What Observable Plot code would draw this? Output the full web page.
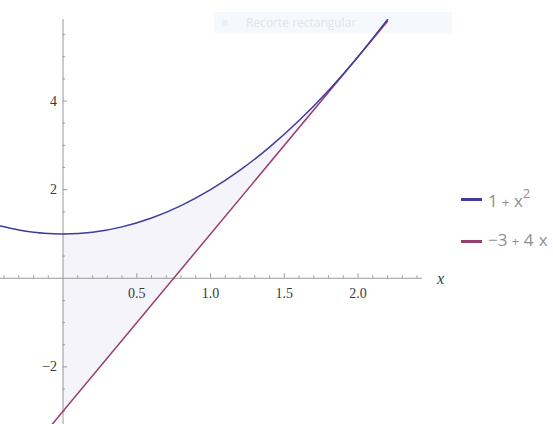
<!DOCTYPE html>
<html>
<head>
<meta charset="utf-8">
<script src="https://cdn.jsdelivr.net/npm/d3@7"></script>
<script src="https://cdn.jsdelivr.net/npm/@observablehq/plot@0.6"></script>
<style>
  html, body { margin: 0; padding: 0; background: #fff; }
  #wrap { position: relative; width: 553px; height: 424px; overflow: hidden; }
  #chart { position: absolute; left: 0; top: 0; z-index: 2; }
  #overlay { position: absolute; left: 214px; top: 12px; width: 238px; height: 21px; z-index: 1;
    background: #f5f9fe; font: 12px "Open Sans", sans-serif; color: #e2e4e8; }
  #overlay .dot { position: absolute; left: 8px; top: 8px; width: 6px; height: 6px; border-radius: 3px; background: #eceef2; }
  #overlay .lbl { position: absolute; left: 32px; top: 2px; white-space: nowrap; }
  #legend { position: absolute; left: 461px; top: 185px; z-index: 3; font: 17px "Open Sans", sans-serif; color: #8f8f8f; }
  .item { position: relative; height: 42px; }
  .sw { position: absolute; left: 0; top: 13px; width: 21px; height: 3px; }
  .tx { position: absolute; left: 27px; top: 1px; white-space: nowrap; }
  .tx sup { font-size: 13px; position: relative; top: -2px; }
  .op { font-size: 13px; margin: 0 1px; }
</style>
</head>
<body>
<div id="wrap">
  <div id="overlay"><div class="dot"></div><div class="lbl">Recorte rectangular</div></div>
  <div id="chart"></div>
  <div id="legend"></div>
</div>
<script>
// Series
const seriesNames = ["1 + x²", "−3 + 4 x"];
const seriesColors = ["#3f3d99", "#993d71"];

// Parabola samples (x, y)
const parabX = [-0.424, -0.3, -0.2, -0.1, 0, 0.2, 0.4, 0.6, 0.8, 1.0, 1.2, 1.4, 1.6, 1.8, 2.0, 2.2];
const parabY = [1.18, 1.09, 1.04, 1.01, 1.0, 1.04, 1.16, 1.36, 1.64, 2.0, 2.44, 2.96, 3.56, 4.24, 5.0, 5.84];

// Line samples (x, y)
const lineX = [-0.2, 2.2];
const lineY = [-3.8, 5.8];

// Shaded region between the curves, x from 0 to 2
const fillX  = [0, 0.2, 0.4, 0.6, 0.8, 1.0, 1.2, 1.4, 1.6, 1.8, 2.0];
const fillLo = [-3, -2.2, -1.4, -0.6, 0.2, 1.0, 1.8, 2.6, 3.4, 4.2, 5.0];
const fillHi = [1.0, 1.04, 1.16, 1.36, 1.64, 2.0, 2.44, 2.96, 3.56, 4.24, 5.0];

// Ticks
const xMajorTicks = [0.5, 1.0, 1.5, 2.0];
const xTickLabels = ["0.5", "1.0", "1.5", "2.0"];
const xMinorTicks = [-0.4, -0.3, -0.2, -0.1, 0.1, 0.2, 0.3, 0.4, 0.6, 0.7, 0.8, 0.9, 1.1, 1.2, 1.3, 1.4, 1.6, 1.7, 1.8, 1.9, 2.1, 2.2, 2.3, 2.4];
const yMajorTicks = [-2, 2, 4];
const yTickLabels = ["−2", "2", "4"];
const yMinorTicks = [-3, -2.5, -1.5, -1, -0.5, 0.5, 1, 1.5, 2.5, 3, 3.5, 4.5, 5, 5.5];

const xDomain = [-0.424, 2.437];
const yDomain = [-3.3, 5.84];

const W = 553, H = 424, mL = 0, mR = 131, mT = 19, mB = 0;
const pxPerX = (W - mL - mR) / (xDomain[1] - xDomain[0]);
const pxPerY = (H - mT - mB) / (yDomain[1] - yDomain[0]);

const parab = parabX.map((x, i) => ({x, y: parabY[i]}));
const line = lineX.map((x, i) => ({x, y: lineY[i]}));
const fill = fillX.map((x, i) => ({x, lo: fillLo[i], hi: fillHi[i]}));

const axisColor = "#9a9a9a";
const minorLen = 2.5, majorLen = 4.5;

const chart = Plot.plot({
  width: W, height: H,
  marginLeft: mL, marginRight: mR, marginTop: mT, marginBottom: mB,
  x: {domain: xDomain, axis: null},
  y: {domain: yDomain, axis: null},
  style: {background: "transparent", overflow: "visible"},
  marks: [
    Plot.areaY(fill, {x: "x", y1: "lo", y2: "hi", fill: "#f4f4fa", curve: "natural"}),
    // axes
    Plot.ruleY([0], {x1: xDomain[0], x2: xDomain[1], stroke: axisColor, strokeWidth: 1}),
    Plot.ruleX([0], {y1: yDomain[0], y2: yDomain[1], stroke: axisColor, strokeWidth: 1}),
    Plot.ruleX(xMinorTicks, {x: d => d, y1: 0, y2: minorLen / pxPerY, stroke: axisColor}),
    Plot.ruleX(xMajorTicks, {x: d => d, y1: 0, y2: majorLen / pxPerY, stroke: axisColor}),
    Plot.ruleY(yMinorTicks, {y: d => d, x1: 0, x2: minorLen / pxPerX, stroke: axisColor}),
    Plot.ruleY(yMajorTicks, {y: d => d, x1: 0, x2: majorLen / pxPerX, stroke: axisColor}),
    Plot.text(xMajorTicks, {x: d => d, y: 0, text: (d, i) => xTickLabels[i], dy: 15,
      fontFamily: "Liberation Serif", fontSize: 14, fill: "#3a3a3a"}),
    Plot.text(yMajorTicks, {x: 0, y: d => d, text: (d, i) => yTickLabels[i], dx: -6, textAnchor: "end",
      fontFamily: "Liberation Serif", fontSize: 14, fill: "#3a3a3a"}),
    Plot.text(["x"], {x: xDomain[1], y: 0, text: d => d, dx: 18, dy: 1,
      fontFamily: "Liberation Serif", fontStyle: "italic", fontSize: 16, fill: "#3a3a3a"}),
    // curves
    Plot.line(line, {x: "x", y: "y", stroke: seriesColors[1], strokeWidth: 1.5, clip: true}),
    Plot.line(parab, {x: "x", y: "y", stroke: seriesColors[0], strokeWidth: 1.5, curve: "natural", clip: true})
  ]
});
document.getElementById("chart").appendChild(chart);

// Legend
const legend = document.getElementById("legend");
const legendHtml = [
  '1<span class="op"> + </span>x<sup>2</sup>',
  '−3<span class="op"> + </span>4<span class="op"> </span>x'
];
seriesNames.forEach((name, i) => {
  const item = document.createElement("div");
  item.className = "item";
  item.innerHTML = `<div class="sw" style="background:${seriesColors[i]}"></div><div class="tx" title="${name}">${legendHtml[i]}</div>`;
  legend.appendChild(item);
});
</script>
</body>
</html>
